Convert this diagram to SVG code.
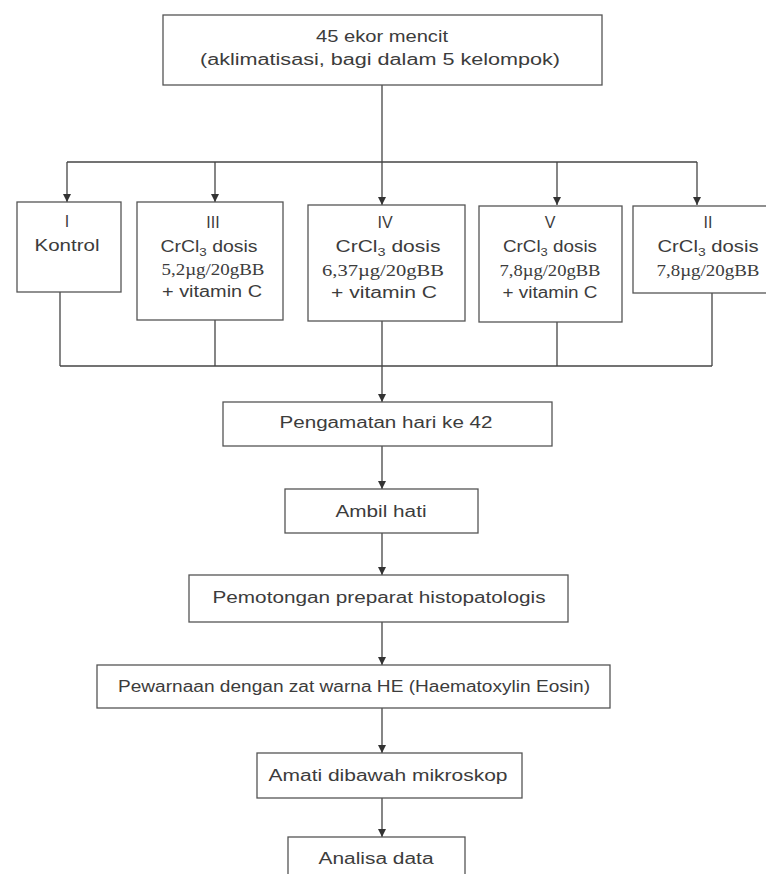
<svg xmlns="http://www.w3.org/2000/svg" width="766" height="874" viewBox="0 0 766 874">
<defs>
<style>
.box{fill:#fff;stroke:#555;stroke-width:1.3}
.ln{fill:none;stroke:#444;stroke-width:1.3}
.t{font-family:"Liberation Sans",Arial,sans-serif;font-size:16px;fill:#3c3c3c;text-anchor:middle}
.s{font-family:"Liberation Serif","Times New Roman",serif;font-size:16px;fill:#3c3c3c;text-anchor:middle}
.sub{font-size:11px}
</style>
<marker id="ah" markerUnits="userSpaceOnUse" markerWidth="8" markerHeight="8" refX="8" refY="4" orient="auto">
<path d="M0,0 L8,4 L0,8 z" fill="#333"/>
</marker>
</defs>
<rect width="766" height="874" fill="#fff"/>
<g id="connectors">
<path class="ln" d="M382,85 V162"/>
<path class="ln" d="M67,162 H697"/>
<path class="ln" d="M67,162 V202" marker-end="url(#ah)"/>
<path class="ln" d="M215,162 V202" marker-end="url(#ah)"/>
<path class="ln" d="M382,162 V205" marker-end="url(#ah)"/>
<path class="ln" d="M557,162 V205" marker-end="url(#ah)"/>
<path class="ln" d="M697,162 V205" marker-end="url(#ah)"/>
<path class="ln" d="M60,292 V366"/>
<path class="ln" d="M215,320 V366"/>
<path class="ln" d="M557,322 V366"/>
<path class="ln" d="M712,293 V366"/>
<path class="ln" d="M60,366 H712"/>
<path class="ln" d="M382,321 V402" marker-end="url(#ah)"/>
<path class="ln" d="M382,446 V489" marker-end="url(#ah)"/>
<path class="ln" d="M382,533 V575" marker-end="url(#ah)"/>
<path class="ln" d="M382,622 V665" marker-end="url(#ah)"/>
<path class="ln" d="M382,708 V753" marker-end="url(#ah)"/>
<path class="ln" d="M382,798 V837" marker-end="url(#ah)"/>
</g>
<g id="n-start">
<rect class="box" x="163" y="15" width="439" height="70"/>
<text class="t" x="382" y="42" textLength="132" lengthAdjust="spacingAndGlyphs">45 ekor mencit</text>
<text class="t" x="380" y="65" textLength="360" lengthAdjust="spacingAndGlyphs">(aklimatisasi, bagi dalam 5 kelompok)</text>
</g>
<g id="n-I">
<rect class="box" x="17" y="202" width="104" height="90"/>
<text class="t" x="67" y="227">I</text>
<text class="t" x="67" y="251" textLength="65" lengthAdjust="spacingAndGlyphs">Kontrol</text>
</g>
<g id="n-III">
<rect class="box" x="137" y="202" width="146" height="118"/>
<text class="t" x="213" y="228">III</text>
<text class="t" x="209" y="252" textLength="97" lengthAdjust="spacingAndGlyphs">CrCl<tspan class="sub" dy="4">3</tspan><tspan dy="-4"> dosis</tspan></text>
<text class="s" x="213" y="275" textLength="103" lengthAdjust="spacingAndGlyphs">5,2µg/20gBB</text>
<text class="t" x="212" y="297" textLength="100" lengthAdjust="spacingAndGlyphs">+ vitamin C</text>
</g>
<g id="n-IV">
<rect class="box" x="308" y="205" width="157" height="116"/>
<text class="t" x="385" y="228">IV</text>
<text class="t" x="388" y="252" textLength="105" lengthAdjust="spacingAndGlyphs">CrCl<tspan class="sub" dy="4">3</tspan><tspan dy="-4"> dosis</tspan></text>
<text class="s" x="383" y="276" textLength="122" lengthAdjust="spacingAndGlyphs">6,37µg/20gBB</text>
<text class="t" x="384" y="298" textLength="106" lengthAdjust="spacingAndGlyphs">+ vitamin C</text>
</g>
<g id="n-V">
<rect class="box" x="479" y="206" width="143" height="116"/>
<text class="t" x="550" y="228">V</text>
<text class="t" x="550" y="252" textLength="94" lengthAdjust="spacingAndGlyphs">CrCl<tspan class="sub" dy="4">3</tspan><tspan dy="-4"> dosis</tspan></text>
<text class="s" x="550" y="276" textLength="101" lengthAdjust="spacingAndGlyphs">7,8µg/20gBB</text>
<text class="t" x="550" y="298" textLength="95" lengthAdjust="spacingAndGlyphs">+ vitamin C</text>
</g>
<g id="n-II">
<rect class="box" x="633" y="206" width="140" height="87"/>
<text class="t" x="708" y="228">II</text>
<text class="t" x="708" y="252" textLength="101" lengthAdjust="spacingAndGlyphs">CrCl<tspan class="sub" dy="4">3</tspan><tspan dy="-4"> dosis</tspan></text>
<text class="s" x="708" y="276" textLength="103" lengthAdjust="spacingAndGlyphs">7,8µg/20gBB</text>
</g>
<g id="n-pengamatan">
<rect class="box" x="223" y="402" width="329" height="44"/>
<text class="t" x="386" y="428" textLength="213" lengthAdjust="spacingAndGlyphs">Pengamatan hari ke 42</text>
</g>
<g id="n-ambil">
<rect class="box" x="285" y="489" width="193" height="44"/>
<text class="t" x="381" y="517" textLength="91" lengthAdjust="spacingAndGlyphs">Ambil hati</text>
</g>
<g id="n-pemotongan">
<rect class="box" x="189" y="575" width="379" height="47"/>
<text class="t" x="379" y="603" textLength="333" lengthAdjust="spacingAndGlyphs">Pemotongan preparat histopatologis</text>
</g>
<g id="n-pewarnaan">
<rect class="box" x="97" y="665" width="513" height="43"/>
<text class="t" x="354" y="692" textLength="472" lengthAdjust="spacingAndGlyphs">Pewarnaan dengan zat warna HE (Haematoxylin Eosin)</text>
</g>
<g id="n-amati">
<rect class="box" x="257" y="753" width="265" height="45"/>
<text class="t" x="388" y="781" textLength="239" lengthAdjust="spacingAndGlyphs">Amati dibawah mikroskop</text>
</g>
<g id="n-analisa">
<rect class="box" x="288" y="837" width="177" height="45"/>
<text class="t" x="376" y="864" textLength="115" lengthAdjust="spacingAndGlyphs">Analisa data</text>
</g>
</svg>
